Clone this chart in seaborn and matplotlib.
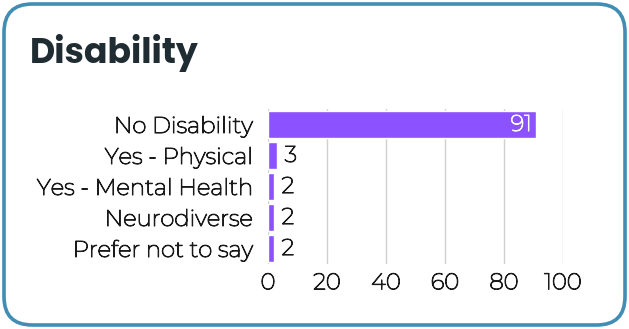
import matplotlib
matplotlib.use("Agg")
import matplotlib.pyplot as plt
import matplotlib.patheffects as pe
import seaborn as sns
import pandas as pd
from matplotlib.patches import FancyBboxPatch

categories = ["No Disability", "Yes - Physical", "Yes - Mental Health", "Neurodiverse", "Prefer not to say"]
values = [91, 3, 2, 2, 2]
xticks = [0, 20, 40, 60, 80, 100]

df = pd.DataFrame({"category": categories, "count": values})

sns.set_theme(style="white")
plt.rcParams['font.family'] = ['Montserrat', 'Lato', 'DejaVu Sans']

W, H = 629, 329
FS = 16.4
TXT = "#1a1a1a"
fig = plt.figure(figsize=(W / 100, H / 100), dpi=100)

# rounded border
box = FancyBboxPatch((4 / W, 4 / H), (W - 8) / W, (H - 8) / H,
                     boxstyle="round,pad=0,rounding_size=0.045",
                     transform=fig.transFigure, facecolor="none",
                     edgecolor="#418db4", linewidth=2.6, zorder=10,
                     mutation_aspect=W / H)
fig.patches.append(box)

fig.text(30 / W, 1 - 53 / H, "Disability", fontsize=25, fontweight="bold",
         color="#1f2d33", family=["Poppins", "Lato", "DejaVu Sans"], va="center", ha="left")

ax = fig.add_axes([268 / W, 1 - 264 / H, (563 - 268) / W, (264 - 109) / H])
ax.set_facecolor("none")
sns.barplot(data=df, x="count", y="category", orient="h", color="#8c52ff",
            saturation=1, width=0.9, ax=ax, zorder=2)
ax.set_xlim(0, 100)
ax.set_xticks(xticks)
ax.set_xticklabels([str(t) for t in xticks])
ax.grid(axis="x", color="#d0d0d0", linewidth=1, zorder=0)
ax.grid(axis="y", visible=False)
ax.set_axisbelow(True)
for s in ax.spines.values():
    s.set_visible(False)
ax.set_xlabel("")
ax.set_ylabel("")
ax.tick_params(axis="both", length=0, labelsize=FS, colors=TXT)
ax.tick_params(axis="x", pad=6)
ax.tick_params(axis="y", pad=11)
thick = [pe.withStroke(linewidth=0.75, foreground=TXT)]
for lab in ax.get_xticklabels() + ax.get_yticklabels():
    lab.set_path_effects(thick)

for i, v in enumerate(values):
    if v > 50:
        ax.text(v - 1.5, i, str(v), ha="right", va="center", color="white", fontsize=FS,
                path_effects=[pe.withStroke(linewidth=0.75, foreground="white")])
    else:
        ax.text(v + 2.6, i, str(v), ha="left", va="center", color=TXT, fontsize=FS,
                path_effects=thick)

fig.savefig("out.png", dpi=100, facecolor="white")
